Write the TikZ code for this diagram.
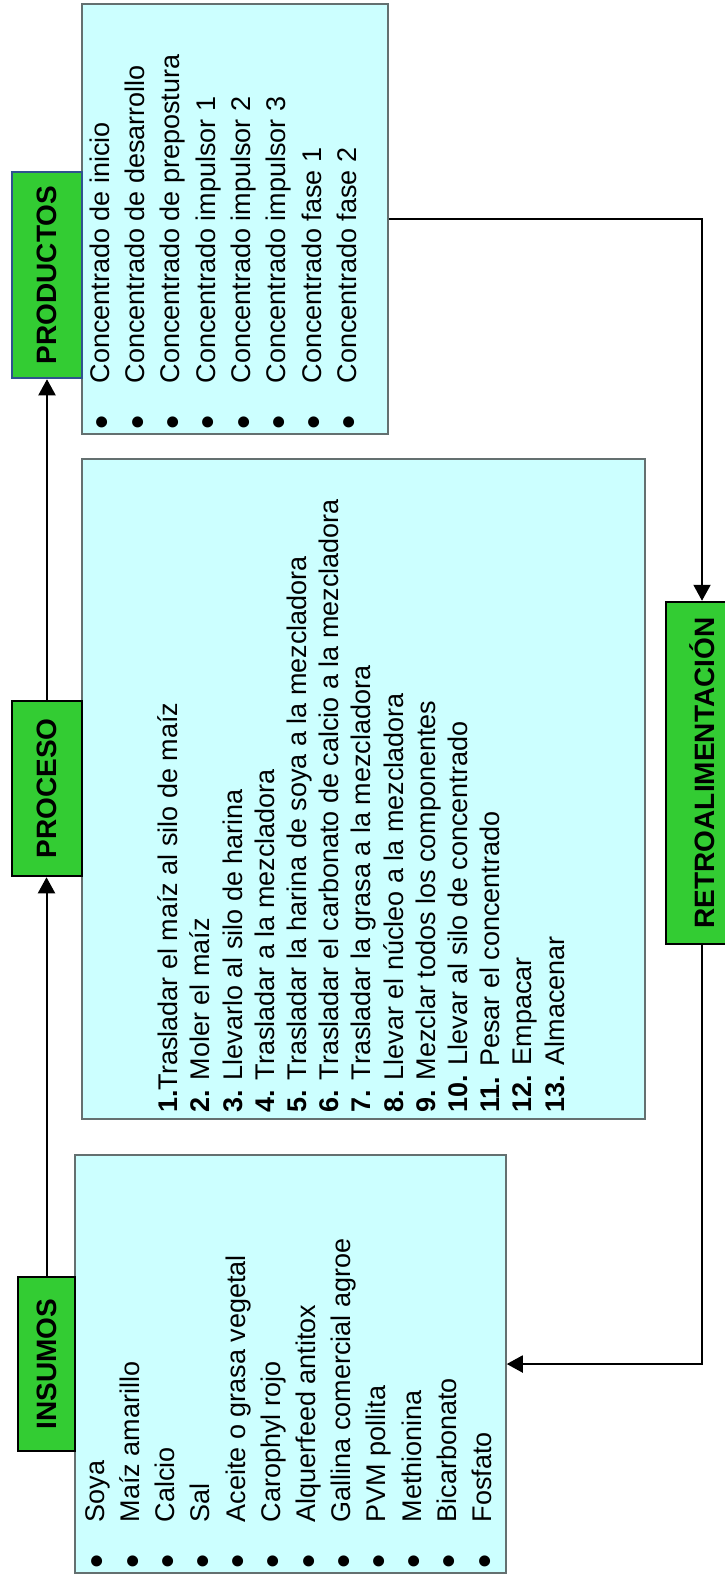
\documentclass[tikz,border=0pt]{standalone}
\usepackage{fontspec}
\setmainfont{Liberation Sans}
\usetikzlibrary{arrows.meta, positioning}
\definecolor{cVerde}{RGB}{51,204,51}
\definecolor{cCian}{RGB}{204,255,255}
\definecolor{cBorde}{RGB}{100,112,112}
\definecolor{cAzul}{RGB}{47,82,143}
\tikzset{
	titulo/.style={rectangle, draw=black, line width=2.5pt, fill=cVerde, inner sep=0pt, font=\fontsize{28}{34}\selectfont\bfseries},
	caja/.style  ={rectangle, draw=cBorde, line width=1.5pt, fill=cCian, inner sep=0pt},
	item/.style  ={rotate=90, anchor=base west, inner sep=0pt, font=\fontsize{27}{33}\selectfont},
	paso/.style  ={rotate=90, anchor=base west, inner sep=0pt, font=\fontsize{27}{32}\selectfont},
	flecha/.style={-{Triangle[length=16pt, width=17pt]}, line width=2pt},
}
\newcommand{\vineta}{\makebox[46.5pt][l]{\raisebox{-6.5pt}{\scalebox{1.5}{\textbullet}}}}

\begin{document}
\begin{tikzpicture}[x=1pt, y=-1pt]
	\useasboundingbox (0,0) rectangle (725,1577);
	\clip (0,0) rectangle (725,1577);
	% cajas de contenido
	\node[caja, minimum width=431pt, minimum height=418pt] (insumoscaja) at (290.5,1364) {};
	\node[caja, minimum width=563pt, minimum height=660pt] (procesocaja) at (363.5,789) {};
	\node[caja, minimum width=306pt, minimum height=430pt] (productoscaja) at (235,219) {};
	% titulos
	\node[titulo, minimum width=57pt, minimum height=174pt] (insumos) at (46.5,1364) {\rotatebox{90}{INSUMOS}};
	\node[titulo, minimum width=70pt, minimum height=175pt] (proceso) at (47,788.5) {\rotatebox{90}{PROCESO}};
	\node[titulo, draw=cAzul, minimum width=70pt, minimum height=206pt] (productos) at (47,275) {\rotatebox{90}{PRODUCTOS}};
	\node[titulo, minimum width=72pt, minimum height=342pt] (retro) at (702,773) {\rotatebox{90}{RETROALIMENTACIÓN}};
	% listas
	\foreach \t [count=\i] in {Soya, Maíz amarillo, Calcio, Sal, Aceite o grasa vegetal, Carophyl rojo, Alquerfeed antitox, Gallina comercial agroe, PVM pollita, Methionina, Bicarbonato, Fosfato}
		\node[item] (ins\i) at ({104.3+35.2*(\i-1)},1569) {\vineta\t};
	\foreach \t [count=\i] in {Concentrado de inicio, Concentrado de desarrollo, Concentrado de prepostura, Concentrado impulsor 1, Concentrado impulsor 2, Concentrado impulsor 3, Concentrado fase 1, Concentrado fase 2}
		\node[item] (prod\i) at ({109.3+35.3*(\i-1)},430) {\vineta\t};
	\foreach \t [count=\i] in {{\textbf{1.}Trasladar el maíz al silo de maíz}, {\textbf{2.} Moler el maíz}, {\textbf{3.} Llevarlo al silo de harina}, {\textbf{4.} Trasladar a la mezcladora}, {\textbf{5.} Trasladar la harina de soya a la mezcladora}, {\textbf{6.} Trasladar el carbonato de calcio a la mezcladora}, {\textbf{7.} Trasladar la grasa a la mezcladora}, {\textbf{8.} Llevar el núcleo a la mezcladora}, {\textbf{9.} Mezclar todos los componentes}, {\textbf{10.} Llevar al silo de concentrado}, {\textbf{11.} Pesar el concentrado}, {\textbf{12.} Empacar}, {\textbf{13.} Almacenar}}
		\node[paso] (paso\i) at ({177.6+32.2*(\i-1)},1113) {\t};
	% conectores
	\draw[flecha] (insumos) -- (insumos |- proceso.south);
	\draw[flecha] (proceso) -- (proceso |- productos.south);
	\draw[flecha] (productoscaja.east) -| (retro.north);
	\draw[flecha] (retro.south) |- (insumoscaja.east);
\end{tikzpicture}
\end{document}
